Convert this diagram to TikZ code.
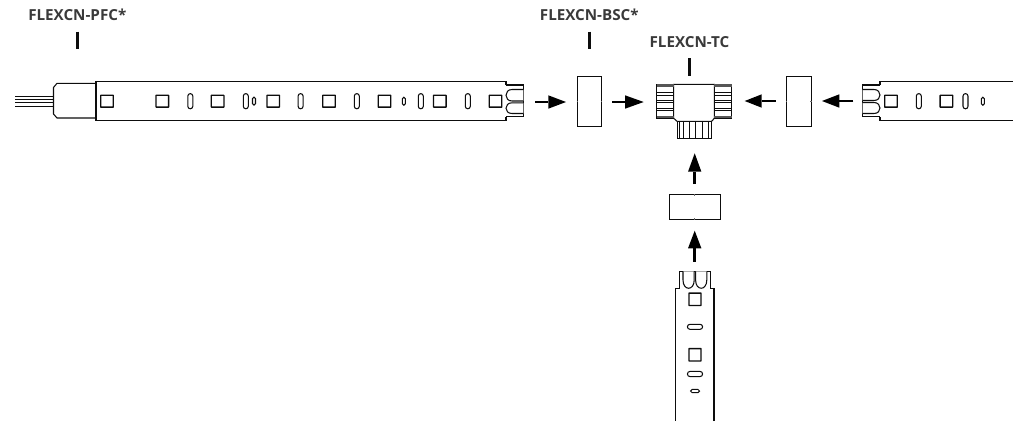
\documentclass[tikz,border=0pt]{standalone}
\usepackage{fontspec}
\setmainfont{Open Sans}
\definecolor{ink}{HTML}{0D0D0D}
\definecolor{lbl}{HTML}{3A3A3A}
\tikzset{
  part/.style={draw=ink,line width=1.05pt,fill=white,line join=miter},
  thin part/.style={draw=ink,line width=0.85pt},
  band/.style={draw=ink!70,line width=2.6pt},
  led/.style={draw=ink,line width=1.3pt,rounded corners=0.3pt},
  pill/.style={draw=ink,line width=1.05pt},
  lab/.style={font=\bfseries\fontsize{15.2}{17}\selectfont,text=lbl,inner sep=0pt,anchor=center},
  leader/.style={draw=ink,line width=2.4pt},
  flowshaft/.style={draw=black,line width=2.7pt},
  flowhead/.style={fill=black,draw=none},
  sleeve/.style={draw=ink,line width=1pt,inner sep=0pt},
  tick/.style={draw=ink!60,line width=0.5pt},
}
\newcommand{\sq}[2]{\draw[led] (#1-6.3,#2-5.9) rectangle (#1+6.3,#2+5.9);}
\newcommand{\vsq}[2]{\draw[led] (#1-6,#2-6.2) rectangle (#1+6,#2+6.2);}
\newcommand{\vp}[3]{\draw[pill,rounded corners=#2 pt] (#1-#2,101.2-#3) rectangle (#1+#2,101.2+#3);}
\newcommand{\hp}[4]{\draw[pill,rounded corners=#4 pt] (#1-#3,#2-#4) rectangle (#1+#3,#2+#4);}
\begin{document}
\begin{tikzpicture}[x=1pt,y=-1pt]
\useasboundingbox (0,0) rectangle (1023,421);
\coordinate (pfcA) at (77.3,31.7); \coordinate (pfcB) at (77.3,49.3);
\coordinate (bscA) at (589.3,31.7); \coordinate (bscB) at (589.3,49.3);
\coordinate (tcA) at (689.5,58.3); \coordinate (tcB) at (689.5,76);
\node[lab] (lpfc) at (77.3,15) {FLEXCN-PFC*};
\node[lab] (lbsc) at (589.3,15) {FLEXCN-BSC*};
\node[lab] (ltc) at (689.5,42.5) {FLEXCN-TC};
\draw[leader] (pfcA) -- (pfcB);
\draw[leader] (bscA) -- (bscB);
\draw[leader] (tcA) -- (tcB);
% left strip
\draw[thin part] (15,96) -- (54,96) (15,99.5) -- (54,99.5) (15,102.5) -- (54,102.5) (15,106.5) -- (54,106.5);
\draw[part] (96,83.3) -- (57,83.3) -- (53.5,87.5) -- (53.5,114) -- (57,118) -- (96,118);
\draw[part] (506,85) -- (506,81.3) -- (96,81.3) -- (96,120.4) -- (506,120.4) -- (506,116.7);
\foreach \x in {107,162.3,217.6,273.2,329,384.5,439.8,495.5} {\sq{\x}{101.2}}
\foreach \x in {190.3,245.8,300.6,356.8,420.8,467.8} {\vp{\x}{2.5}{7.6}}
\foreach \x in {254,403.8} {\vp{\x}{1.5}{4}}
\draw[part] (506,85) -- (523.3,85) -- (523.3,116.7) -- (506,116.7);
\draw[part] (523.3,89.5) -- (512,89.5) .. controls (504,89.5) and (504,101) .. (512,101) -- (523.3,101);
\draw[part] (523.3,102.8) -- (512,102.8) .. controls (504,102.8) and (504,113.5) .. (512,113.5) -- (523.3,113.5);
% right strip
\draw[part] (880,85) -- (880,81.3) -- (1012.7,81.3) (1012.7,120.4) -- (880,120.4) -- (880,116.5);
\foreach \x in {891,946.4} {\sq{\x}{101.2}}
\foreach \x in {918.8,965.5} {\vp{\x}{2.5}{7.6}}
\vp{982.8}{1.5}{4}
\draw[part] (880,85) -- (862.7,85) -- (862.7,116.5) -- (880,116.5);
\draw[part] (862.7,89.5) -- (874,89.5) .. controls (882,89.5) and (882,100.5) .. (874,100.5) -- (862.7,100.5);
\draw[part] (862.7,102.5) -- (874,102.5) .. controls (882,102.5) and (882,113.5) .. (874,113.5) -- (862.7,113.5);
% bottom strip
\draw[part] (679.3,288.7) -- (675.7,288.7) -- (675.7,421) (714,421) -- (714,288.7) -- (710.7,288.7);
\draw[part] (679.3,288.7) -- (679.3,271.3) -- (710.7,271.3) -- (710.7,288.7);
\draw[part] (683,271.3) -- (683,280) .. controls (683,291) and (694.2,291) .. (694.2,280) -- (694.2,271.3);
\draw[part] (695.6,271.3) -- (695.6,280) .. controls (695.6,291) and (706.8,291) .. (706.8,280) -- (706.8,271.3);
\vsq{695}{299.3} \vsq{695}{354.8}
\hp{695}{326.8}{7.6}{2.5} \hp{695}{374}{7.6}{2.6} \hp{695}{391}{4.5}{1.7}
% sleeves
\node[sleeve,minimum width=24.4pt,minimum height=50.3pt] (bscL) at (589.5,101.2) {};
\node[sleeve,minimum width=25pt,minimum height=50.3pt] (bscR) at (798.8,101.2) {};
\node[sleeve,minimum width=50.7pt,minimum height=24.6pt] (bscB2) at (694.7,207) {};
\draw[tick] (bscL.west) -- ++(1.5,0) (bscL.east) -- ++(-1.5,0);
\draw[tick] (bscR.west) -- ++(1.5,0) (bscR.east) -- ++(-1.5,0);
\draw[tick] (bscB2.north) -- ++(0,1.5) (bscB2.south) -- ++(0,-1.5);
% T connector
\draw[part] (673.7,84.3) -- (714.3,84.3) -- (714.3,118.3) -- (711.5,121.5) -- (677.3,121.5) -- (673.7,118.3) -- cycle;
\draw[part] (673.7,84.3) rectangle (656.8,118.3);
\draw[part] (714.3,84.3) rectangle (731.5,118.3);
\foreach \y in {92.7,95,100.7,102.7,108.3,110} {
  \draw[thin part] (656.8,\y) -- (673.7,\y);
  \draw[thin part] (714.3,\y) -- (731.5,\y);
}
\draw[band] (656.8,85.4) -- (673.7,85.4) (714.3,85.4) -- (731.5,85.4);
\draw[band] (656.8,116.9) -- (673.7,116.9) (714.3,116.9) -- (731.5,116.9);
\draw[part] (677.3,121.5) rectangle (711.5,138.8);
\foreach \x in {679.3,683.5,689.5,695.5,702,708.3} {\draw[thin part] (\x,121.5) -- (\x,138.8);}
% arrows
\foreach \a/\b/\c/\y in {535/548.3/566/102,612.3/625/643.7/102,775.7/761.7/744.7/101,853.3/839.3/822/101} {
  \draw[flowshaft] (\a,\y) -- (\b,\y);
  \fill[flowhead] (\b,\y-6.7) -- (\c,\y) -- (\b,\y+6.7) -- cycle;
}
\foreach \a/\b/\c/\x in {184/171.7/153.3/694.7,261.7/248.3/230.7/694.7} {
  \draw[flowshaft] (\x,\a) -- (\x,\b);
  \fill[flowhead] (\x-6.7,\b) -- (\x,\c) -- (\x+6.7,\b) -- cycle;
}
\end{tikzpicture}
\end{document}
